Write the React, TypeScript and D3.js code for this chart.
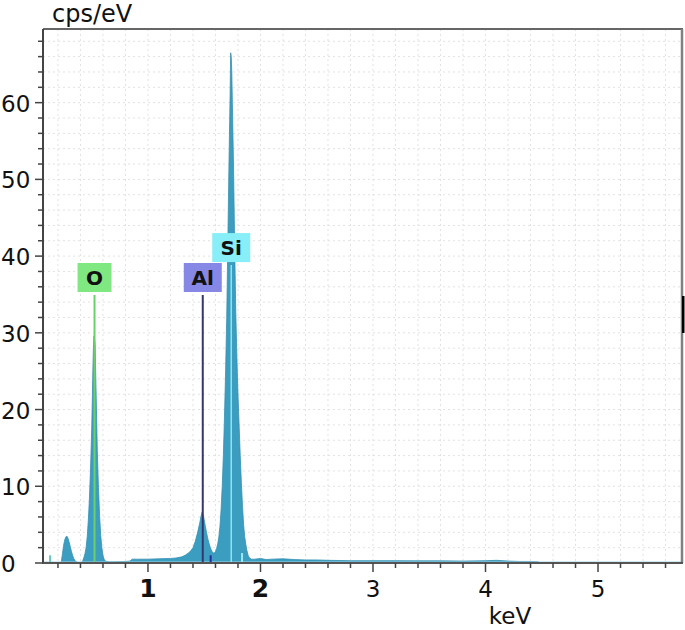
import React from 'react';
import * as d3 from 'd3';

// Spectrum (energy in keV, intensity in cps/eV)
const energies = [
  0.067, 0.22, 0.23, 0.24, 0.25, 0.26, 0.27, 0.28, 0.29, 0.30, 0.31, 0.32, 0.33, 0.34, 0.35, 0.36, 0.37, 0.38,
  0.41, 0.42, 0.43, 0.44, 0.45, 0.46, 0.47, 0.48, 0.49, 0.50, 0.505, 0.51, 0.515, 0.52, 0.525, 0.53, 0.535, 0.54,
  0.545, 0.55, 0.56, 0.57, 0.58, 0.59, 0.60, 0.61, 0.62, 0.65, 0.70, 0.80, 0.84, 0.86, 0.90, 1.00, 1.10, 1.20,
  1.25, 1.30, 1.33, 1.36, 1.38, 1.40, 1.42, 1.44, 1.46, 1.47, 1.48, 1.49, 1.50, 1.51, 1.52, 1.53, 1.54, 1.55,
  1.56, 1.57, 1.58, 1.59, 1.60, 1.61, 1.62, 1.63, 1.64, 1.65, 1.66, 1.67, 1.68, 1.69, 1.70, 1.71, 1.72, 1.73,
  1.735, 1.74, 1.745, 1.75, 1.76, 1.77, 1.78, 1.79, 1.80, 1.81, 1.82, 1.83, 1.84, 1.85, 1.86, 1.87, 1.88, 1.89,
  1.90, 1.92, 1.95, 2.00, 2.05, 2.10, 2.20, 2.30, 2.40, 2.50, 2.60, 2.80, 3.00, 3.20, 3.40, 3.60, 3.80, 4.00,
  4.10, 4.20, 4.30, 4.40, 4.47, 4.48, 5.75,
];
const counts = [
  0, 0, 0.2, 1.2, 2.3, 3.0, 3.4, 3.5, 3.2, 2.7, 2.1, 1.5, 1.0, 0.6, 0.35, 0.2, 0.1, 0,
  0, 0.3, 0.7, 1.2, 2.0, 3.4, 5.6, 8.5, 12.5, 17.5, 21, 25, 28, 29.6, 29.2, 28.5, 25, 21.5,
  18, 14.5, 9.8, 6.2, 3.6, 2.0, 1.0, 0.5, 0.25, 0.15, 0.15, 0.2, 0.25, 0.5, 0.5, 0.5, 0.55, 0.6,
  0.65, 0.8, 1.0, 1.3, 1.6, 2.0, 2.8, 3.9, 5.2, 6.0, 6.6, 6.3, 5.6, 4.8, 4.0, 3.3, 2.7, 2.2,
  1.8, 1.5, 1.3, 1.3, 1.5, 1.9, 2.5, 3.4, 4.8, 7.0, 10, 14, 19, 25, 32, 42, 52, 61,
  66.5, 66, 64, 60, 52, 42, 33, 27, 22, 18, 14, 10.5, 7.5, 5.0, 3.4, 2.4, 1.6, 1.0,
  0.7, 0.5, 0.5, 0.6, 0.45, 0.5, 0.55, 0.45, 0.4, 0.4, 0.35, 0.3, 0.3, 0.3, 0.28, 0.28, 0.25, 0.3,
  0.35, 0.25, 0.2, 0.2, 0.15, 0, 0,
];

const yTicks = [0, 10, 20, 30, 40, 50, 60];
const xTicks = [1, 2, 3, 4, 5];

// Element markers
const elementNames = ['O', 'Al', 'Si'];
const elementEnergies = [0.525, 1.487, 1.74];
const elementLabelLevels = [39.1, 39.1, 43.0];
const elementBoxColors = ['#80e880', '#8787e6', '#88eef7'];
const elementLineColors = ['#6ccf6c', '#36366e', '#8de6f0'];

// Small secondary line markers
const minorMarkerEnergies = [0.13, 1.557, 1.836];
const minorMarkerHeights = [1.0, 1.0, 1.3];
const minorMarkerColors = ['#63c9b8', '#2a2a9a', '#9ae8f4'];

const W = 685;
const H = 630;
const FONT = '"DejaVu Sans", Verdana, sans-serif';

export default function App() {
  const x = d3.scaleLinear().domain([0.067, 5.75]).range([43, 682.4]);
  const y = d3.scaleLinear().domain([0, 69.6]).range([563, 29]);
  const data = energies.map((e, i) => ({ e, c: counts[i] }));
  const area = d3
    .area<{ e: number; c: number }>()
    .x((d) => x(d.e))
    .y0(y(0))
    .y1((d) => y(d.c));

  const xMinor = d3.range(1, 29).map((i) => +(i * 0.2).toFixed(2));
  const yMinor = d3.range(1, 35).map((i) => i * 2);
  const left = x.range()[0];
  const right = 682;
  const top = y.range()[1];
  const bottom = y.range()[0];

  return (
    <svg
      width={W}
      height={H}
      style={{ position: 'absolute', left: 0, top: 0, background: '#fff' }}
      fontFamily={FONT}
    >
      <rect x={0} y={0} width={W} height={H} fill="#fff" />
      {/* grid */}
      <g stroke="#e2e2e2" strokeWidth={1} strokeDasharray="2,3">
        {xMinor.map((v) => (
          <line key={'gx' + v} x1={x(v)} x2={x(v)} y1={top} y2={bottom} />
        ))}
        {yMinor.map((v) => (
          <line key={'gy' + v} x1={left} x2={right} y1={y(v)} y2={y(v)} />
        ))}
      </g>

      {/* spectrum */}
      <path d={area(data) || ''} fill="#3b9dc0" stroke="#3390b3" strokeWidth={0.8} />
      <line x1={left} x2={right} y1={bottom - 1} y2={bottom - 1} stroke="#9fd3e4" strokeWidth={1} />

      {/* element lines */}
      {elementNames.map((n, i) => (
        <line
          key={'el' + n}
          x1={x(elementEnergies[i])}
          x2={x(elementEnergies[i])}
          y1={y(elementLabelLevels[i]) + 32}
          y2={bottom}
          stroke={elementLineColors[i]}
          strokeWidth={n === 'Si' ? 1.5 : 2}
        />
      ))}
      {minorMarkerEnergies.map((e, i) => (
        <line
          key={'mm' + i}
          x1={x(e)}
          x2={x(e)}
          y1={y(minorMarkerHeights[i])}
          y2={bottom}
          stroke={minorMarkerColors[i]}
          strokeWidth={2}
        />
      ))}

      {/* element labels */}
      {elementNames.map((n, i) => {
        const w = n.length > 1 ? 38 : 34;
        const cx = x(elementEnergies[i]);
        const ty = y(elementLabelLevels[i]);
        return (
          <g key={'lb' + n}>
            <rect x={cx - w / 2} y={ty} width={w} height={29} fill={elementBoxColors[i]} />
            <text
              x={cx}
              y={ty + 22}
              textAnchor="middle"
              fontSize={20}
              fontWeight="bold"
              fill="#111"
            >
              {n}
            </text>
          </g>
        );
      })}

      {/* frame */}
      <line x1={left} x2={right + 1} y1={top} y2={top} stroke="#666" strokeWidth={2} />
      <line x1={right} x2={right} y1={top} y2={bottom} stroke="#808080" strokeWidth={2.5} />
      <rect x={682} y={296} width={2.5} height={37} fill="#000" />
      <line x1={left} x2={left} y1={top} y2={bottom + 1} stroke="#444" strokeWidth={2} />
      <line x1={left} x2={right + 1} y1={bottom} y2={bottom} stroke="#555" strokeWidth={2} />

      {/* ticks */}
      <g stroke="#444" strokeWidth={1.5}>
        {yMinor
          .filter((v) => v % 10 !== 0)
          .map((v) => (
            <line key={'yt' + v} x1={left - 5} x2={left} y1={y(v)} y2={y(v)} />
          ))}
        {yTicks.map((v) => (
          <line key={'yT' + v} x1={left - 8} x2={left} y1={y(v)} y2={y(v)} />
        ))}
        {xMinor
          .filter((v) => Math.abs(v - Math.round(v)) > 0.01)
          .map((v) => (
            <line key={'xt' + v} x1={x(v)} x2={x(v)} y1={bottom} y2={bottom + 5} />
          ))}
        {xTicks.map((v) => (
          <line key={'xT' + v} x1={x(v)} x2={x(v)} y1={bottom} y2={bottom + 9} />
        ))}
      </g>

      {/* tick labels */}
      {yTicks.map((v) => (
        <text key={'yl' + v} x={1} y={y(v) + 9} fontSize={23} fill="#111">
          {v}
        </text>
      ))}
      {xTicks.map((v) => (
        <text
          key={'xl' + v}
          x={x(v)}
          y={597}
          textAnchor="middle"
          fontSize={v <= 2 ? 25 : 23}
          fontWeight={v <= 2 ? 'bold' : 'normal'}
          fill="#111"
        >
          {v}
        </text>
      ))}

      {/* axis titles */}
      <text x={52} y={22} fontSize={24} fill="#111">
        cps/eV
      </text>
      <text x={510} y={624} textAnchor="middle" fontSize={23} fill="#111">
        keV
      </text>
    </svg>
  );
}
